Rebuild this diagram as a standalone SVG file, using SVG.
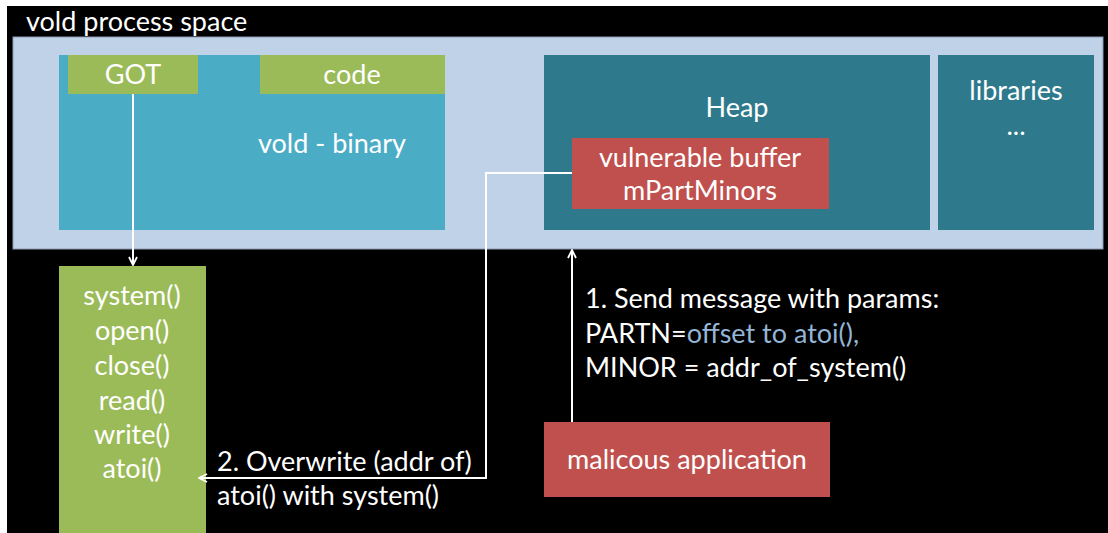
<svg xmlns="http://www.w3.org/2000/svg" width="1108" height="533" viewBox="0 0 1108 533">
  <style>
    text { font-family: Lato, "Open Sans", "Liberation Sans", sans-serif; font-size: 27px; fill: #FFFFFF; }
    .mid { text-anchor: middle; }
    .hl { fill: #93B5D6; }
    .wire { fill: none; stroke: #FFFFFF; stroke-width: 2; }
  </style>
  <defs>
    <marker id="chev" viewBox="0 0 10 10" refX="9" refY="5" markerWidth="10" markerHeight="10" markerUnits="userSpaceOnUse" orient="auto">
      <path d="M1,1 L9,5 L1,9" fill="none" stroke="#FFFFFF" stroke-width="1.8"/>
    </marker>
  </defs>

  <!-- page -->
  <rect x="0" y="0" width="1108" height="533" fill="#FFFFFF"/>
  <rect x="7" y="6" width="1101" height="527" fill="#000000"/>

  <!-- process space container -->
  <g id="process-space">
    <rect x="13" y="37" width="1090" height="212" fill="#C0D2E8" stroke="#8A9BB0" stroke-width="1"/>
    <text x="26" y="31">vold process space</text>
  </g>

  <g id="vold-binary">
    <rect x="59" y="55" width="386" height="175" fill="#4BACC6"/>
    <text class="mid" x="332" y="153">vold - binary</text>
  </g>

  <g id="got">
    <rect x="68" y="55" width="130" height="39" fill="#9BBB59"/>
    <text class="mid" x="133" y="84">GOT</text>
  </g>

  <g id="code">
    <rect x="260" y="55" width="185" height="39" fill="#9BBB59"/>
    <text class="mid" x="352" y="84">code</text>
  </g>

  <g id="heap">
    <rect x="544" y="55" width="386" height="175" fill="#2E7A8C"/>
    <text class="mid" x="737" y="117">Heap</text>
  </g>

  <g id="vulnerable-buffer">
    <rect x="572" y="138" width="257" height="71" fill="#C0504D"/>
    <text class="mid" x="700" y="167">vulnerable buffer</text>
    <text class="mid" x="700" y="200">mPartMinors</text>
  </g>

  <g id="libraries">
    <rect x="938" y="55" width="156" height="175" fill="#2E7A8C"/>
    <text class="mid" x="1016" y="100">libraries</text>
    <text class="mid" x="1016" y="135">...</text>
  </g>

  <g id="libc-functions">
    <rect x="59" y="266" width="147" height="267" fill="#9BBB59"/>
    <text class="mid" x="132" y="305">system()</text>
    <text class="mid" x="132" y="340">open()</text>
    <text class="mid" x="132" y="375">close()</text>
    <text class="mid" x="132" y="410">read()</text>
    <text class="mid" x="132" y="444">write()</text>
    <text class="mid" x="132" y="478">atoi()</text>
  </g>

  <g id="malicious-app">
    <rect x="544" y="422" width="286" height="75" fill="#C0504D"/>
    <text class="mid" x="687" y="469">malicous application</text>
  </g>

  <!-- connectors -->
  <g id="connectors">
    <path class="wire" d="M133,94 V265" marker-end="url(#chev)"/>
    <path class="wire" d="M572,173 H486 V478 H199" marker-end="url(#chev)"/>
    <path class="wire" d="M572,422 V250" marker-end="url(#chev)"/>
  </g>

  <!-- step labels -->
  <g id="step-labels">
    <text x="585" y="308">1. Send message with params:</text>
    <text x="585" y="343">PARTN=<tspan class="hl">offset to atoi(),</tspan></text>
    <text x="585" y="377">MINOR = addr_of_system()</text>
    <text x="217" y="471">2. Overwrite (addr of)</text>
    <text x="217" y="505">atoi() with system()</text>
  </g>
</svg>
